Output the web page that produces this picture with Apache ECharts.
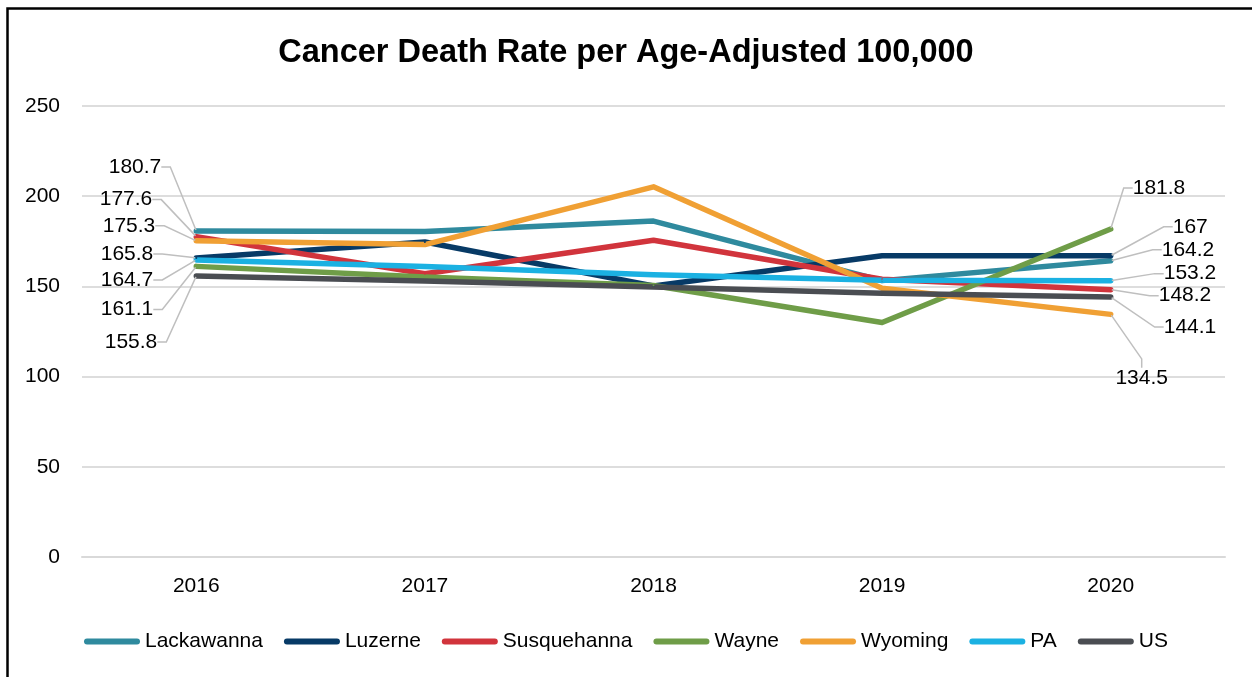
<!DOCTYPE html>
<html>
<head>
<meta charset="utf-8">
<title>Cancer Death Rate per Age-Adjusted 100,000</title>
<script src="https://cdn.jsdelivr.net/npm/echarts@6/dist/echarts.min.js"></script>
<style>
  html, body { margin: 0; padding: 0; background: #ffffff; }
  #chart { width: 1252px; height: 677px; }
</style>
</head>
<body>
<div id="chart"></div>
<script>
// Years on the x axis
const years = ['2016', '2017', '2018', '2019', '2020'];

// Cancer death rate per age-adjusted 100,000, by area
const lackawanna  = [180.7, 180.5, 186.2, 153.2, 164.2];
const luzerne     = [165.8, 174.6, 150.2, 167.0, 167.0];
const susquehanna = [177.6, 157.0, 175.6, 154.0, 148.2];
const wayne       = [161.1, 155.2, 150.5, 130.0, 181.8];
const wyoming     = [175.3, 173.2, 205.2, 149.0, 134.5];
const pa          = [164.7, 161.0, 156.5, 153.4, 153.2];
const us          = [155.8, 153.0, 149.6, 146.2, 144.1];

// Y axis ticks
const yMin = 0, yMax = 250, yStep = 50;

const seriesNames = ['Lackawanna', 'Luzerne', 'Susquehanna', 'Wayne', 'Wyoming', 'PA', 'US'];
const seriesValues = [lackawanna, luzerne, susquehanna, wayne, wyoming, pa, us];
const seriesColors = ['#2F8A9E', '#073A66', '#D1343C', '#6F9D48', '#F0A034', '#1BB1E2', '#4A4D52'];

// Where each end label sits, relative to its point (px): [dx, dy]
const startLabelOffset = {
  Lackawanna: [-35, -64], Susquehanna: [-44, -37], Wyoming: [-41, -15],
  Luzerne: [-43, -4], PA: [-43, 20], Wayne: [-43, 43], US: [-39, 66]
};
const endLabelOffset = {
  Wayne: [22, -41], Luzerne: [62, -29], Lackawanna: [51, -11],
  PA: [53, -7], Susquehanna: [48, 6], US: [53, 30], Wyoming: [31, 64]
};

const FONT = '"Liberation Sans", Arial, sans-serif';
const last = years.length - 1;

const chart = echarts.init(document.getElementById('chart'), null, { renderer: 'canvas' });

const series = seriesNames.map((name, s) => {
  const color = seriesColors[s];
  const data = seriesValues[s].map((v, i) => {
    const isEnd = (i === 0 || i === last);
    return {
      value: v,
      label: { show: isEnd },
      labelLine: { show: isEnd }
    };
  });
  return {
    name: name,
    type: 'line',
    data: data,
    color: color,
    symbol: 'circle',
    symbolSize: 2,
    showSymbol: true,
    itemStyle: { color: color },
    lineStyle: { color: color, width: 5.5, cap: 'round', join: 'round' },
    label: {
      fontFamily: FONT,
      fontSize: 21,
      color: '#000000',
      formatter: (p) => String(p.value)
    },
    labelLine: {
      length2: 9,
      lineStyle: { color: '#BFBFBF', width: 1.5 }
    },
    labelLayout: (params) => {
      const cx = params.rect.x + params.rect.width / 2;
      const cy = params.rect.y + params.rect.height / 2;
      if (params.dataIndex === 0) {
        const o = startLabelOffset[name];
        return { x: cx + o[0], y: cy + o[1], align: 'right', verticalAlign: 'middle' };
      }
      const o = endLabelOffset[name];
      const align = name === 'Wyoming' ? 'center' : 'left';
      return { x: cx + o[0], y: cy + o[1], align: align, verticalAlign: 'middle' };
    },
    emphasis: { disabled: true },
    animation: false
  };
});

const option = {
  backgroundColor: '#ffffff',
  animation: false,
  title: {
    text: 'Cancer Death Rate per Age-Adjusted 100,000',
    left: 'center',
    top: 32,
    textStyle: { fontFamily: FONT, fontSize: 32.5, fontWeight: 'bold', color: '#000000' }
  },
  legend: {
    data: seriesNames,
    bottom: 20,
    left: 'center',
    itemWidth: 56,
    itemHeight: 6,
    itemGap: 21,
    icon: 'path://M3,0 H53 A3,3 0 0 1 53,6 H3 A3,3 0 0 1 3,0 Z',
    textStyle: { fontFamily: FONT, fontSize: 21, color: '#000000' }
  },
  grid: { left: 82, right: 27, top: 106, bottom: 120, containLabel: false },
  xAxis: {
    type: 'category',
    data: years,
    boundaryGap: true,
    axisLine: { show: true, lineStyle: { color: '#D9D9D9', width: 2 } },
    axisTick: { show: false },
    axisLabel: { fontFamily: FONT, fontSize: 21, color: '#000000', margin: 19 }
  },
  yAxis: {
    type: 'value',
    min: yMin,
    max: yMax,
    interval: yStep,
    axisLine: { show: false },
    axisTick: { show: false },
    axisLabel: { fontFamily: FONT, fontSize: 21, color: '#000000', margin: 22 },
    splitLine: { lineStyle: { color: '#DDDDDD', width: 2 } }
  },
  graphic: [{
    type: 'rect',
    left: 5, top: 6,
    shape: { width: 1320, height: 760 },
    style: { fill: 'none', stroke: '#000000', lineWidth: 2.5 },
    silent: true
  }],
  series: series
};

chart.setOption(option);
</script>
</body>
</html>
